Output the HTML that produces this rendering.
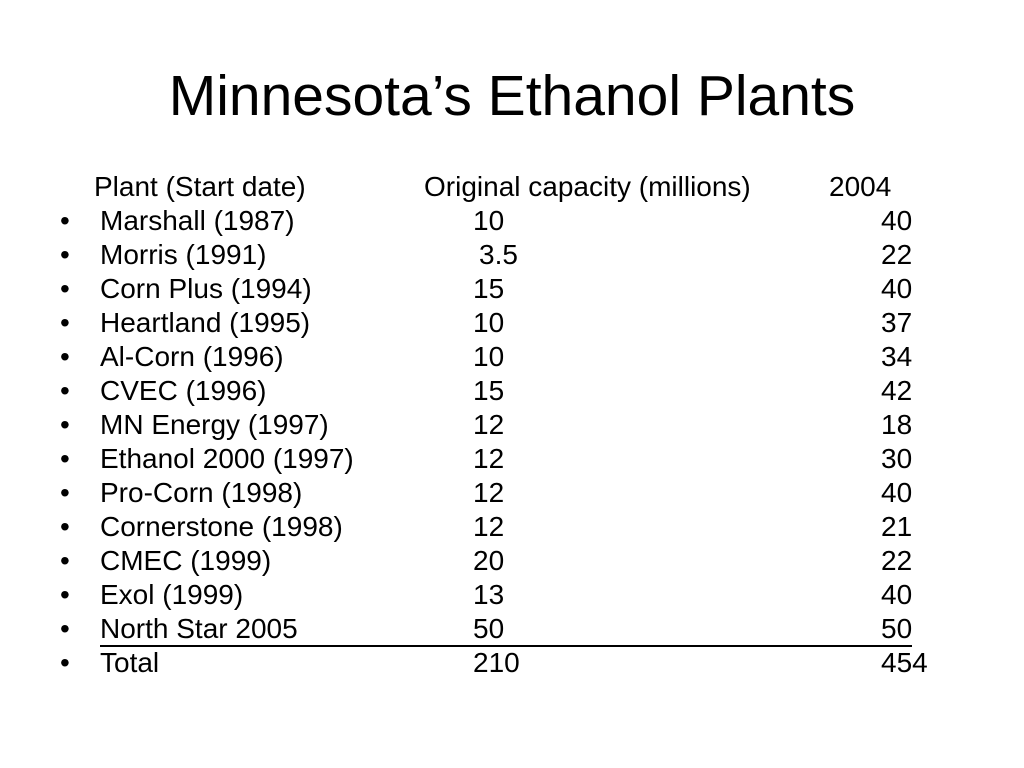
<!DOCTYPE html>
<html><head><meta charset="utf-8"><style>
body{margin:0;width:1024px;height:768px;background:#fff;font-family:"Liberation Sans",Arial,sans-serif;color:#000;position:relative;overflow:hidden}
.t{position:absolute;font-size:28px;line-height:34px;white-space:pre}
#title{position:absolute;left:0;width:1024px;top:63px;text-align:center;font-size:57px;line-height:66px}
</style></head><body>
<div id="title">Minnesota’s Ethanol Plants</div>
<div class="t" style="left:94px;top:170px">Plant (Start date)</div>
<div class="t" style="left:424px;top:170px">Original capacity (millions)</div>
<div class="t" style="left:829px;top:170px">2004</div>
<div id="rows"></div>
<div style="position:absolute;left:100px;top:645px;width:812px;height:2px;background:#000"></div>
<script>
const plants=["Marshall (1987)","Morris (1991)","Corn Plus (1994)","Heartland (1995)","Al-Corn (1996)","CVEC (1996)","MN Energy (1997)","Ethanol 2000 (1997)","Pro-Corn (1998)","Cornerstone (1998)","CMEC (1999)","Exol (1999)","North Star 2005","Total"];
const original=["10","3.5","15","10","10","15","12","12","12","12","20","13","50","210"];
const cap2004=["40","22","40","37","34","42","18","30","40","21","22","40","50","454"];
const rows=document.getElementById('rows');
function add(txt,x,y,name){
  const d=document.createElement('div');
  d.className='t';d.textContent=txt;d.style.left=x+'px';d.style.top=y+'px';
  
  
  rows.appendChild(d);
}
plants.forEach((p,i)=>{
  const y=204+34*i;
  add('•',60,y,'bullet');
  add(p,100,y,'plant-name');
  add(original[i],original[i]==='3.5'?479:473,y,'original-capacity');
  add(cap2004[i],881,y,'capacity-2004');
});
</script>
</body></html>
